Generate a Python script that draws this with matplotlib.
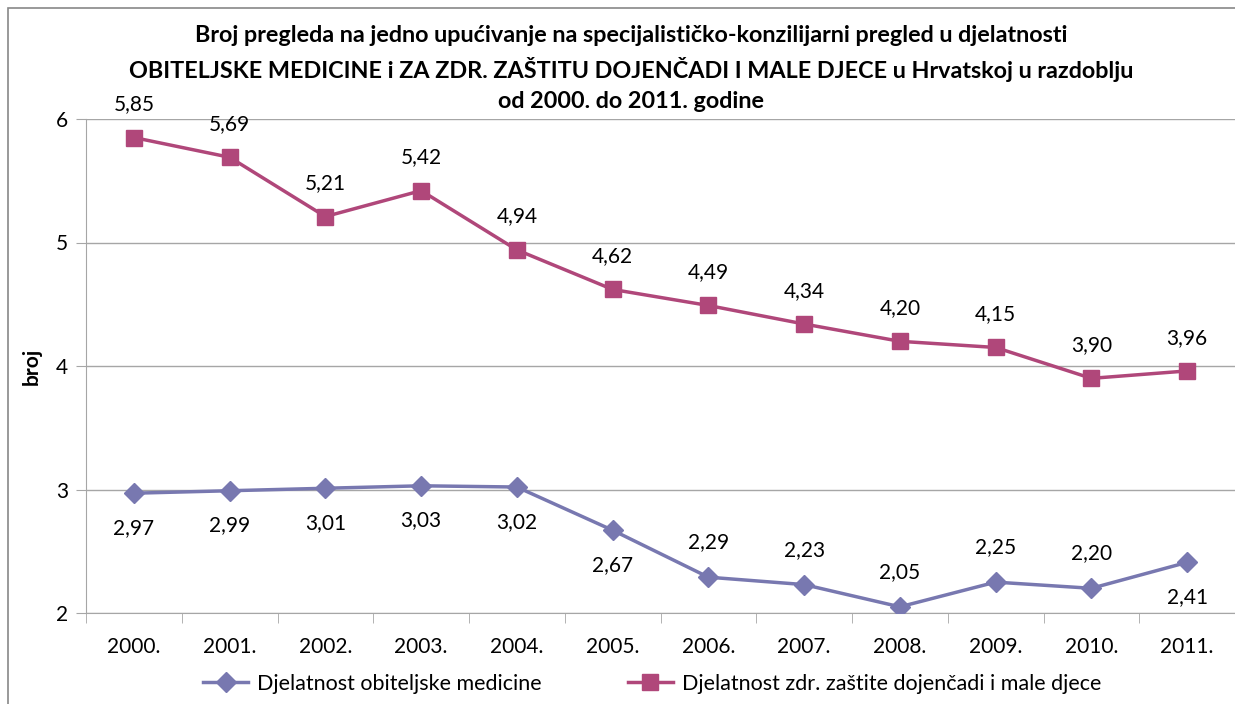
import matplotlib
matplotlib.use("Agg")
import matplotlib.pyplot as plt
from matplotlib.patches import Rectangle

plt.rcParams['font.family'] = ['Lato', 'DejaVu Sans']

years = ["2000.", "2001.", "2002.", "2003.", "2004.", "2005.", "2006.", "2007.", "2008.", "2009.", "2010.", "2011."]
obiteljska = [2.97, 2.99, 3.01, 3.03, 3.02, 2.67, 2.29, 2.23, 2.05, 2.25, 2.20, 2.41]
dojencad = [5.85, 5.69, 5.21, 5.42, 4.94, 4.62, 4.49, 4.34, 4.20, 4.15, 3.90, 3.96]
# label placement for first series: 1 = above, -1 = below
obit_pos = [-1, -1, -1, -1, -1, -1, 1, 1, 1, 1, 1, -1]

series1_name = "Djelatnost obiteljske medicine"
series2_name = "Djelatnost zdr. zaštite dojenčadi i male djece"
title_lines = ["Broj pregleda na jedno upućivanje na specijalističko-konzilijarni pregled u djelatnosti",
               "OBITELJSKE MEDICINE i ZA ZDR. ZAŠTITU DOJENČADI I MALE DJECE u Hrvatskoj u razdoblju",
               "od 2000. do 2011. godine"]

c1 = '#7878B0'
c2 = '#B0477A'

W, H = 1235, 704
fig = plt.figure(figsize=(W/100, H/100), dpi=100)
ax = fig.add_axes([86/W, 1-613/H, (1235-86)/W, (613-119)/H])

x = list(range(len(years)))
ax.plot(x, obiteljska, color=c1, lw=2.5, marker='D', ms=10, label=series1_name, zorder=3)
ax.plot(x, dojencad, color=c2, lw=2.5, marker='s', ms=11.5, label=series2_name, zorder=3)

def fmt(v):
    return f"{v:.2f}".replace('.', ',')

fs = 15
for xi, v, p in zip(x, obiteljska, obit_pos):
    ax.annotate(fmt(v), (xi, v), xytext=(0, 25*p), textcoords='offset points',
                ha='center', va='center', fontsize=fs, color='black')
for xi, v in zip(x, dojencad):
    ax.annotate(fmt(v), (xi, v), xytext=(0, 24), textcoords='offset points',
                ha='center', va='center', fontsize=fs, color='black')

ax.set_xlim(-0.5, len(years)-0.5)
ax.set_ylim(2, 6)
ax.set_yticks([2, 3, 4, 5, 6])
ax.set_yticklabels(['2', '3', '4', '5', '6'], fontsize=fs)
ax.yaxis.grid(True, color='#A6A6A6', lw=1)
ax.set_axisbelow(True)
ax.set_xticks(x)
ax.set_xticklabels(years, fontsize=fs)
ax.tick_params(axis='x', length=0, pad=17)
ax.set_xticks([i - 0.5 for i in range(len(years)+1)], minor=True)
ax.tick_params(axis='x', which='minor', length=7, color='#A6A6A6', direction='out')
ax.tick_params(axis='y', length=7, color='#A6A6A6', pad=6)
for s in ['top', 'right']:
    ax.spines[s].set_visible(False)
for s in ['left', 'bottom']:
    ax.spines[s].set_color('#A6A6A6')
ax.set_ylabel('broj', fontsize=fs, fontweight='bold', labelpad=10)

for line, ypx in zip(title_lines, [35, 70, 102]):
    fig.text(631/W, 1-ypx/H, line, ha='center', va='center', fontsize=16.8,
             fontweight='bold')

fig.legend(loc='center', bbox_to_anchor=(652/W, 1-684/H), ncol=2, frameon=False,
           fontsize=15.5, handlelength=2.1, columnspacing=4.0, handletextpad=0.4)

fig.patches.append(Rectangle((8/W, -0.02), 1.1, (H-8)/H + 0.02, transform=fig.transFigure,
                             fill=False, edgecolor='#888888', lw=1.2))

fig.savefig('out.png', dpi=100)
